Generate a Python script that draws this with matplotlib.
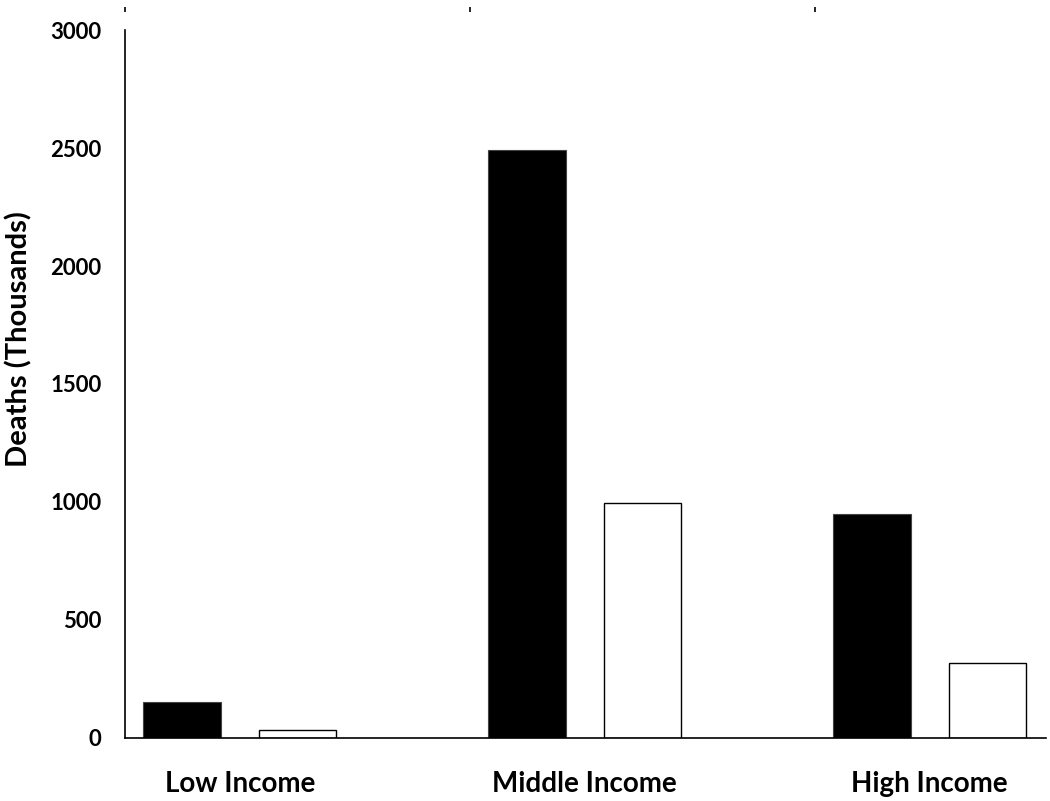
import matplotlib.pyplot as plt
import numpy as np

categories = ["Low Income", "Middle Income", "High Income"]
series_black = [152, 2490, 948]
series_white = [34, 995, 316]
y_ticks = [0, 500, 1000, 1500, 2000, 2500, 3000]

plt.rcParams["font.family"] = ["Lato", "DejaVu Sans"]

fig = plt.figure(figsize=(10.5, 8.01), dpi=100)
ax = fig.add_axes([0.119, 0.0787, 0.8771, 0.8838])

x = np.arange(len(categories))
ax.bar(x + 0.165, series_black, width=0.226, color="black", edgecolor="#444444", linewidth=0.8)
ax.bar(x + 0.5, series_white, width=0.223, color="white", edgecolor="black", linewidth=1.0)

ax.set_xlim(0, 2.67)
ax.set_ylim(0, 3000)
ax.set_yticks(y_ticks)
ax.set_yticklabels([str(v) for v in y_ticks], fontsize=16, fontweight="bold")
ax.tick_params(axis="y", length=0, pad=17)

ax.set_xticks(x + 0.333)
ax.set_xticklabels(categories, fontsize=20, fontweight="bold")
ax.tick_params(axis="x", length=0, pad=24)

ax.set_ylabel("Deaths (Thousands)", fontsize=21, fontweight="bold")
ax.yaxis.set_label_coords(-0.1, 0.564)

for s in ["top", "right"]:
    ax.spines[s].set_visible(False)
ax.spines["left"].set_linewidth(1.2)
ax.spines["bottom"].set_linewidth(1.2)

# little detached tick marks across the top
top = ax.secondary_xaxis(1.0254)
top.set_xticks(x)
top.set_xticklabels([])
top.spines["top"].set_visible(False)
top.tick_params(axis="x", length=3.6, width=1.2, direction="out")

fig.savefig("out.png", dpi=100, facecolor="white")
